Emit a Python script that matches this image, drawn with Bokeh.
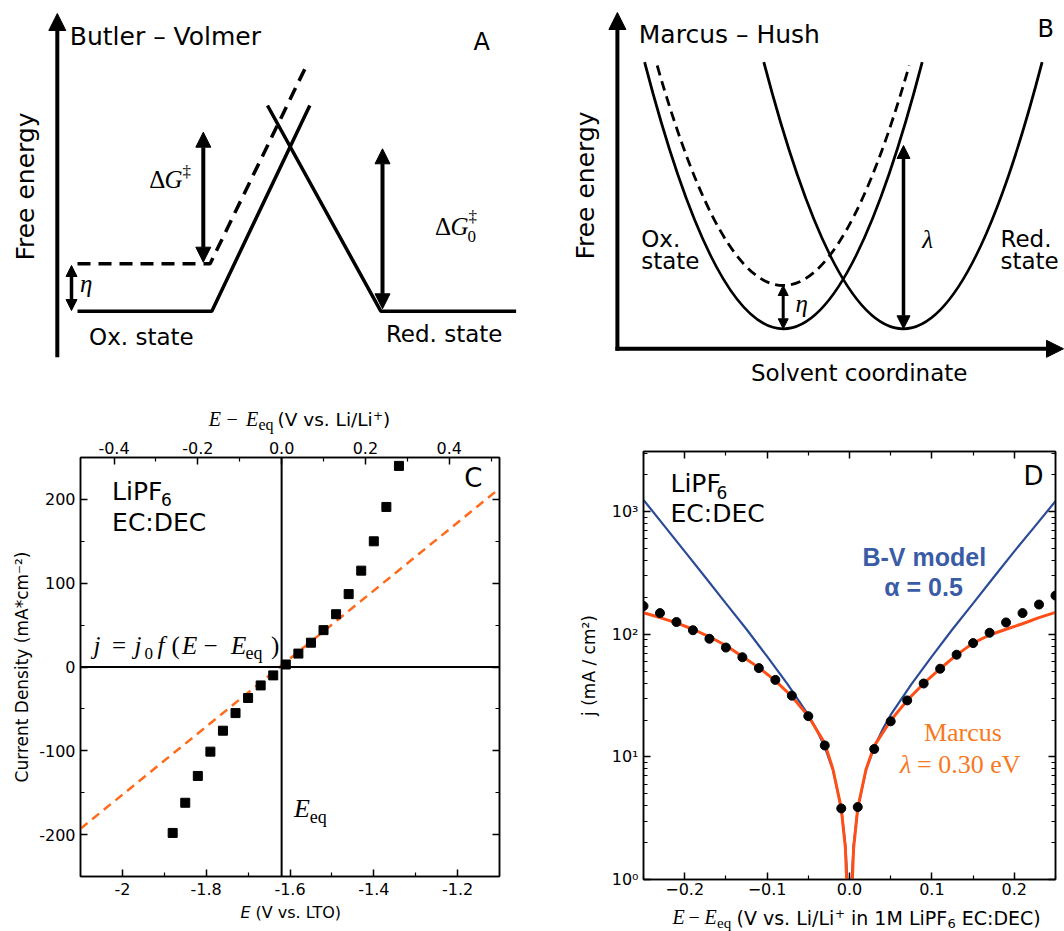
import math
from bokeh.plotting import figure
from bokeh.models import (Range1d, Label, Arrow, NormalHead, Span, LinearAxis,
                          LogAxis, FixedTicker)
from bokeh.layouts import row, column
from bokeh.embed import file_html
from bokeh.resources import INLINE

SANS = "DejaVu Sans"
SERIF = "Liberation Serif"
BOLD = "Liberation Sans"
BLUE_LINE = "#2b4b96"
BLUE_TEXT = "#3a5ca6"
ORANGE_LINE = "#ff4f17"
ORANGE_TEXT = "#f7791f"
ORANGE_DASH = "#ff6a1c"

# ---------------- Panel A : Butler-Volmer schematic (diagram units) ----------
bv_ox_x = [77, 211.3, 309.3]
bv_ox_y = [310.7, 310.7, 105]
bv_red_x = [267, 380.3, 515.6]
bv_red_y = [105, 310.7, 310.7]
bv_shift_x = [77, 209.6, 307.6]
bv_shift_y = [263.3, 263.3, 61.7]
bv_axis = (56.8, 356.7, 13)          # x, bottom, top
bv_dG = (202.8, 261.7, 131.7)        # x, low, high
bv_dG0 = (382, 308.3, 148.3)
bv_eta = (71, 310, 265)

# ---------------- Panel B : Marcus-Hush schematic (diagram units) ------------
# parabola: (left x, right x, top y, vertex x, vertex y)
mh_ox = (644.1, 921.7, 61.7, 782.7, 328.3)
mh_ox_shift = (656.7, 908.7, 65.0, 782.7, 285.0)
mh_red = (763.3, 1041.6, 61.7, 903.0, 328.3)
mh_axis_origin = (616.9, 348.3)
mh_axis_top = 12
mh_axis_right = 1063
mh_lam = (903.0, 328.3, 145.0)
mh_eta = (782.7, 328.3, 285.0)

# ---------------- Panel C data ------------------------------------------------
c_E = [-1.88, -1.85, -1.82, -1.79, -1.76, -1.73, -1.70, -1.67, -1.64, -1.61,
       -1.58, -1.55, -1.52, -1.49, -1.46, -1.43, -1.40, -1.37, -1.34]
c_j = [-198, -162, -130, -101, -76, -55, -37, -22, -10, 3,
       16, 29, 44, 63, 87, 115, 150, 191, 240]
c_fit_E = [-2.1, -1.1]
c_fit_j = [-193, 213]
E_eq = -1.62
c_xticks = [-2, -1.8, -1.6, -1.4, -1.2]
c_xticklabels = ["-2", "-1.8", "-1.6", "-1.4", "-1.2"]
c_xminor = [-1.9, -1.7, -1.5, -1.3]
c_topticks = [-0.4, -0.2, 0, 0.2, 0.4]
c_toplabels = ["-0.4", "-0.2", "0.0", "0.2", "0.4"]
c_topminor = [-0.3, -0.1, 0.1, 0.3, 0.5]
c_yticks = [-200, -100, 0, 100, 200]
c_yticklabels = ["-200", "-100", "0", "100", "200"]
c_yminor = [-150, -50, 50, 150]

# ---------------- Panel D data ------------------------------------------------
d_eta = [-0.25, -0.23, -0.21, -0.19, -0.17, -0.15, -0.13, -0.11, -0.09, -0.07,
         -0.05, -0.03, -0.01, 0.01, 0.03, 0.05, 0.07, 0.09, 0.11, 0.13,
         0.15, 0.17, 0.19, 0.21, 0.23, 0.25]
d_j = [170, 149, 126, 108, 92, 78, 65, 53, 42.5, 31.6,
       21.5, 12.4, 3.8, 3.9, 11.6, 19.5, 28.9, 39.7, 52.4, 68.2,
       84.8, 103, 125, 149, 175, 207]
bv_eta_neg = [-0.25, -0.225, -0.2, -0.175, -0.15, -0.125, -0.1, -0.075, -0.05,
              -0.04, -0.03, -0.02, -0.01, -0.005, -0.0025]
bv_j_neg = [1250, 770, 475, 292, 179, 110, 66, 39, 22, 16.7, 12, 7.8, 3.8, 1.9, 0.95]
bv_eta_pos = [0.0025, 0.005, 0.01, 0.02, 0.03, 0.04, 0.05, 0.075, 0.1, 0.125,
              0.15, 0.175, 0.2, 0.225, 0.25]
bv_j_pos = [0.95, 1.9, 3.8, 7.8, 12, 16.7, 22, 39, 66, 110, 179, 292, 475, 760, 1220]
mc_eta_neg = [-0.25, -0.23, -0.21, -0.19, -0.17, -0.15, -0.13, -0.11, -0.09, -0.07,
              -0.05, -0.03, -0.02, -0.01, -0.0072, -0.005, -0.0035, -0.002]
mc_j_neg = [150, 137, 124, 110, 95.5, 81, 66, 53.5, 41.9, 31.1,
            21.6, 12.9, 7.9, 3.8, 2.5, 1.8, 1.0, 0.5]
mc_eta_pos = [0.002, 0.0035, 0.005, 0.0072, 0.01, 0.02, 0.03, 0.05, 0.07, 0.09,
              0.11, 0.13, 0.15, 0.17, 0.19, 0.21, 0.23, 0.25]
mc_j_pos = [0.5, 1.0, 1.8, 2.5, 3.8, 7.9, 12.3, 19.8, 28.9, 39.7,
            52.4, 68, 84.8, 98.7, 110, 122, 137, 151]
d_xticks = [-0.2, -0.1, 0, 0.1, 0.2]
d_xticklabels = ["\u22120.2", "\u22120.1", "0.0", "0.1", "0.2"]
d_xminor = [-0.25, -0.15, -0.05, 0.05, 0.15, 0.25]
d_yticks = [1, 10, 100, 1000]
d_yticklabels = ["10\u2070", "10\u00b9", "10\u00b2", "10\u00b3"]
d_yminor = [m * 10 ** k for k in range(3) for m in range(2, 10)] + [2000, 3000]


def ident(v):
    return v


def lab(p, conv, px, py, text, size, font=SANS, style="normal", color="black",
        align="left", baseline="alphabetic", angle=0.0):
    """Place a text at page-pixel position (px, py); conv maps pixels to data."""
    fx, fy = conv
    if angle:
        px = px - 0.16 * size
    elif baseline == "alphabetic":
        py = py - 0.36 * size
    else:
        py = py - 0.16 * size
    p.add_layout(Label(x=fx(px), y=fy(py), text=text, text_font=font,
                       text_font_size=f"{size}px", text_font_style=style,
                       text_color=color, text_align=align,
                       text_baseline=baseline, angle=angle))


def blank(width, height, x0, x1, y0, y1):
    p = figure(width=width, height=height, x_range=Range1d(x0, x1),
               y_range=Range1d(y1, y0), output_backend="svg",
               toolbar_location=None, min_border=0)
    p.axis.visible = False
    p.grid.visible = False
    p.outline_line_color = None
    return p


def arrow(p, x, y_a, y_b, lw, head, both=True):
    h_end = NormalHead(size=head, fill_color="black", line_color="black", line_width=1)
    h_start = NormalHead(size=head, fill_color="black", line_color="black", line_width=1) if both else None
    p.add_layout(Arrow(x_start=x, y_start=y_a, x_end=x, y_end=y_b,
                       start=h_start, end=h_end, line_width=lw, line_color="black"))


def style_axis(ax, ticks, minor, labels=None, size=16, standoff=5):
    ax.ticker = FixedTicker(ticks=ticks, minor_ticks=minor)
    ax.major_tick_in = 7
    ax.major_tick_out = 0
    ax.minor_tick_in = 4
    ax.minor_tick_out = 0
    ax.axis_line_width = 1.5
    ax.axis_line_color = "black"
    ax.major_tick_line_width = 1.5
    ax.minor_tick_line_width = 1.2
    ax.major_label_text_font = SANS
    ax.major_label_text_color = "black"
    ax.major_label_text_font_size = f"{size}px"
    ax.major_label_standoff = standoff
    if labels is None:
        labels = [""] * len(ticks)
        ax.major_label_standoff = 0
    ax.major_label_overrides = dict(zip(ticks, labels))


PIX = (ident, ident)

# ================= Panel A =================
pa = blank(530, 385, 0, 530, 0, 385)
pa.line(bv_ox_x, bv_ox_y, line_width=3.5, color="black")
pa.line(bv_red_x, bv_red_y, line_width=3.5, color="black")
pa.line(bv_shift_x, bv_shift_y, line_width=3.5, color="black", line_dash="13 8")
arrow(pa, bv_axis[0], bv_axis[1], bv_axis[2], 4, 17, both=False)
arrow(pa, bv_dG[0], bv_dG[1], bv_dG[2], 4, 15)
arrow(pa, bv_dG0[0], bv_dG0[1], bv_dG0[2], 4, 15)
arrow(pa, bv_eta[0], bv_eta[1], bv_eta[2], 3.5, 11)
lab(pa, PIX, 69.3, 45, "Butler \u2013 Volmer", 25)
lab(pa, PIX, 473, 50, "A", 24)
lab(pa, PIX, 29, 186, "Free energy", 25, align="center", baseline="middle", angle=math.pi / 2)
lab(pa, PIX, 88.6, 345, "Ox. state", 23)
lab(pa, PIX, 385.4, 341.7, "Red. state", 23)
lab(pa, PIX, 148.7, 188.3, "\u0394", 25, font=SERIF)
lab(pa, PIX, 164, 188.3, "G", 25, font=SERIF, style="italic")
lab(pa, PIX, 182, 177, "\u2021", 17, font=SERIF)
lab(pa, PIX, 434.4, 235, "\u0394", 25, font=SERIF)
lab(pa, PIX, 450, 235, "G", 25, font=SERIF, style="italic")
lab(pa, PIX, 468, 222, "\u2021", 17, font=SERIF)
lab(pa, PIX, 467, 242, "0", 17, font=SERIF)
lab(pa, PIX, 79.4, 292, "\u03b7", 25, font=SERIF, style="italic")

# ================= Panel B =================
pb = blank(534, 385, 530, 1064, 0, 385)
for (xl, xr, yt, hx, hy), dash in ((mh_ox, "solid"), (mh_red, "solid"), (mh_ox_shift, "10 6")):
    pb.quadratic(x0=[xl], y0=[yt], x1=[xr], y1=[yt], cx=[hx], cy=[2 * hy - yt],
                 line_width=2.8, line_color="black", line_dash=dash)
ox0, oy0 = mh_axis_origin
arrow(pb, ox0, oy0 + 2, mh_axis_top, 4, 17, both=False)
p_h = NormalHead(size=17, fill_color="black", line_color="black")
pb.add_layout(Arrow(x_start=ox0 - 2, y_start=oy0, x_end=mh_axis_right, y_end=oy0,
                    start=None, end=p_h, line_width=4, line_color="black"))
arrow(pb, mh_lam[0], mh_lam[1], mh_lam[2], 3.5, 13)
arrow(pb, mh_eta[0], mh_eta[1], mh_eta[2], 3, 10)
lab(pb, PIX, 638.3, 43.3, "Marcus \u2013 Hush", 25)
lab(pb, PIX, 1037, 37, "B", 24)
lab(pb, PIX, 589, 185, "Free energy", 25, align="center", baseline="middle", angle=math.pi / 2)
lab(pb, PIX, 640.7, 246.7, "Ox.", 23)
lab(pb, PIX, 640.7, 268.3, "state", 23)
lab(pb, PIX, 1000, 246.7, "Red.", 23)
lab(pb, PIX, 1000, 268.3, "state", 23)
lab(pb, PIX, 921.7, 248, "\u03bb", 25, font=SERIF, style="italic")
lab(pb, PIX, 795, 312, "\u03b7", 25, font=SERIF, style="italic")
lab(pb, PIX, 858.7, 381, "Solvent coordinate", 23, align="center")

# ================= Panel C =================
CF = (80, 499, 457, 876)   # frame px: left, right, top, bottom


def cx(px):
    return -2.1 + (px - CF[0]) / (CF[1] - CF[0]) * 1.0


def cy(py):
    return 250 - (py - CF[2]) / (CF[3] - CF[2]) * 500


CC = (cx, cy)

# strips share the frame's horizontal extent (frames are aligned in a column)
c_strip_top = blank(530, 49, CF[0], CF[1], 385, 434)
pc = figure(width=530, height=467, x_range=Range1d(-2.1, -1.1),
            y_range=Range1d(-250, 250), output_backend="svg",
            toolbar_location=None, min_border_left=80, min_border_right=31,
            min_border_top=23, min_border_bottom=25)
c_strip_bot = blank(530, 30, CF[0], CF[1], 901, 931)
for s in (c_strip_top, c_strip_bot):
    s.min_border_left = 80
    s.min_border_right = 31
pc.extra_x_ranges = {"deq": Range1d(-2.1 - E_eq, -1.1 - E_eq)}
pc.grid.visible = False
pc.outline_line_color = "black"
pc.outline_line_width = 1.5
c_top = LinearAxis(x_range_name="deq")
c_right = LinearAxis()
pc.add_layout(c_top, "above")
pc.add_layout(c_right, "right")
c_bottom = pc.below[0]
c_left = pc.left[0]
style_axis(c_bottom, c_xticks, c_xminor, c_xticklabels, standoff=6)
style_axis(c_top, c_topticks, c_topminor, c_toplabels, standoff=4)
style_axis(c_left, c_yticks, c_yminor, c_yticklabels, standoff=5)
style_axis(c_right, c_yticks, c_yminor, None)
c_left.axis_label = "Current Density (mA*cm\u207b\u00b2)"
c_left.axis_label_text_font = SANS
c_left.axis_label_text_font_size = "17px"
c_left.axis_label_text_font_style = "normal"
c_left.axis_label_text_color = "black"
c_left.axis_label_standoff = 4

pc.add_layout(Span(location=E_eq, dimension="height", line_color="black", line_width=2))
pc.add_layout(Span(location=0, dimension="width", line_color="black", line_width=2))
pc.line(c_fit_E, c_fit_j, line_color=ORANGE_DASH, line_width=2.5, line_dash="9 6")
pc.scatter(c_E, c_j, marker="square", size=9, color="black")

lab(pc, CC, 111.6, 499.5, "LiPF", 25)
lab(pc, CC, 160.5, 505, "6", 17)
lab(pc, CC, 111.6, 531, "EC:DEC", 25)
lab(pc, CC, 463.8, 487, "C", 26)
for xx, t, st in ((93, "j", "italic"), (111.6, "=", "normal"), (134, "j", "italic"),
                  (157, "f", "italic"), (171, "(", "normal"), (181.6, "E", "italic"),
                  (203, "\u2212", "normal"), (230.6, "E", "italic"), (270.5, ")", "normal")):
    lab(pc, CC, xx, 654, t, 25, font=SERIF, style=st)
lab(pc, CC, 144, 659, "0", 17, font=SERIF)
lab(pc, CC, 245, 659, "eq", 18, font=SERIF)
lab(pc, CC, 293.4, 817.6, "E", 26, font=SERIF, style="italic")
lab(pc, CC, 309.3, 823, "eq", 18, font=SERIF)
# top axis title
lab(c_strip_top, PIX, 208.3, 426, "E", 20, font=SERIF, style="italic")
lab(c_strip_top, PIX, 226, 426, "\u2212", 20, font=SERIF)
lab(c_strip_top, PIX, 245.5, 426, "E", 20, font=SERIF, style="italic")
lab(c_strip_top, PIX, 258, 430, "eq", 16, font=SERIF)
lab(c_strip_top, PIX, 277, 426, "(V vs. Li/Li", 18.5)
lab(c_strip_top, PIX, 372.5, 419, "+", 12)
lab(c_strip_top, PIX, 382.5, 426, ")", 18.5)
# bottom axis title
lab(c_strip_bot, PIX, 240, 918, "E", 16, style="italic")
lab(c_strip_bot, PIX, 255, 918, "(V vs. LTO)", 16)

# ================= Panel D =================
DF = (643, 1055, 451, 879)
D_TOP = 3100


def dx(px):
    return -0.25 + (px - DF[0]) / (DF[1] - DF[0]) * 0.5


def dy(py):
    dec = math.log10(D_TOP)
    return 10 ** ((DF[3] - py) / (DF[3] - DF[2]) * dec)


DD = (dx, dy)

pd = figure(width=534, height=516, x_range=Range1d(-0.25, 0.25),
            y_range=Range1d(1, D_TOP), y_axis_type="log", output_backend="svg",
            toolbar_location=None, min_border_left=113, min_border_right=9,
            min_border_top=66, min_border_bottom=22)
d_strip_bot = blank(534, 30, DF[0], DF[1], 901, 931)
d_strip_bot.min_border_left = 113
d_strip_bot.min_border_right = 9
pd.grid.visible = False
pd.outline_line_color = "black"
pd.outline_line_width = 1.5
d_top = LinearAxis()
d_right = LogAxis()
pd.add_layout(d_top, "above")
pd.add_layout(d_right, "right")
d_bottom = pd.below[0]
d_left = pd.left[0]
style_axis(d_bottom, d_xticks, d_xminor, d_xticklabels, standoff=3)
style_axis(d_top, d_xticks, d_xminor, None)
style_axis(d_left, d_yticks, d_yminor, d_yticklabels, standoff=5)
style_axis(d_right, d_yticks, d_yminor, None)
d_left.axis_label = "j (mA / cm\u00b2)"
d_left.axis_label_text_font = SANS
d_left.axis_label_text_font_size = "17px"
d_left.axis_label_text_font_style = "normal"
d_left.axis_label_text_color = "black"
d_left.axis_label_standoff = 10

pd.line(bv_eta_neg, bv_j_neg, line_color=BLUE_LINE, line_width=2.2)
pd.line(bv_eta_pos, bv_j_pos, line_color=BLUE_LINE, line_width=2.2)
pd.line(mc_eta_neg, mc_j_neg, line_color=ORANGE_LINE, line_width=3)
pd.line(mc_eta_pos, mc_j_pos, line_color=ORANGE_LINE, line_width=3)
pd.scatter(d_eta, d_j, marker="circle", size=9, color="black")

lab(pd, DD, 670, 491.7, "LiPF", 25)
lab(pd, DD, 716, 498, "6", 17)
lab(pd, DD, 670, 521.7, "EC:DEC", 25)
lab(pd, DD, 1023, 485, "D", 26)
lab(pd, DD, 923.8, 565, "B-V model", 25, font=BOLD, style="bold", color=BLUE_TEXT, align="center")
lab(pd, DD, 923, 595, "\u03b1 = 0.5", 25, font=BOLD, style="bold", color=BLUE_TEXT, align="center")
lab(pd, DD, 962.4, 741.7, "Marcus", 26, font=SERIF, color=ORANGE_TEXT, align="center")
lab(pd, DD, 899.5, 773, "\u03bb", 26, font=SERIF, style="italic", color=ORANGE_TEXT)
lab(pd, DD, 916.6, 773, "= 0.30 eV", 26, font=SERIF, color=ORANGE_TEXT)
# bottom axis title
lab(d_strip_bot, PIX, 672, 924, "E", 20, font=SERIF, style="italic")
lab(d_strip_bot, PIX, 688, 924, "\u2212", 20, font=SERIF)
lab(d_strip_bot, PIX, 704, 924, "E", 20, font=SERIF, style="italic")
lab(d_strip_bot, PIX, 716.5, 928, "eq", 15, font=SERIF)
lab(d_strip_bot, PIX, 736, 924, "(V vs. Li/Li", 19)
lab(d_strip_bot, PIX, 834.5, 917, "+", 12)
lab(d_strip_bot, PIX, 850.5, 924, "in 1M LiPF", 19)
lab(d_strip_bot, PIX, 947, 928, "6", 13)
lab(d_strip_bot, PIX, 961.3, 924, "EC:DEC)", 19)

layout = column(row(pa, pb),
                row(column(c_strip_top, pc, c_strip_bot),
                    column(pd, d_strip_bot)))
open("out.html", "w").write(file_html(layout, INLINE))
